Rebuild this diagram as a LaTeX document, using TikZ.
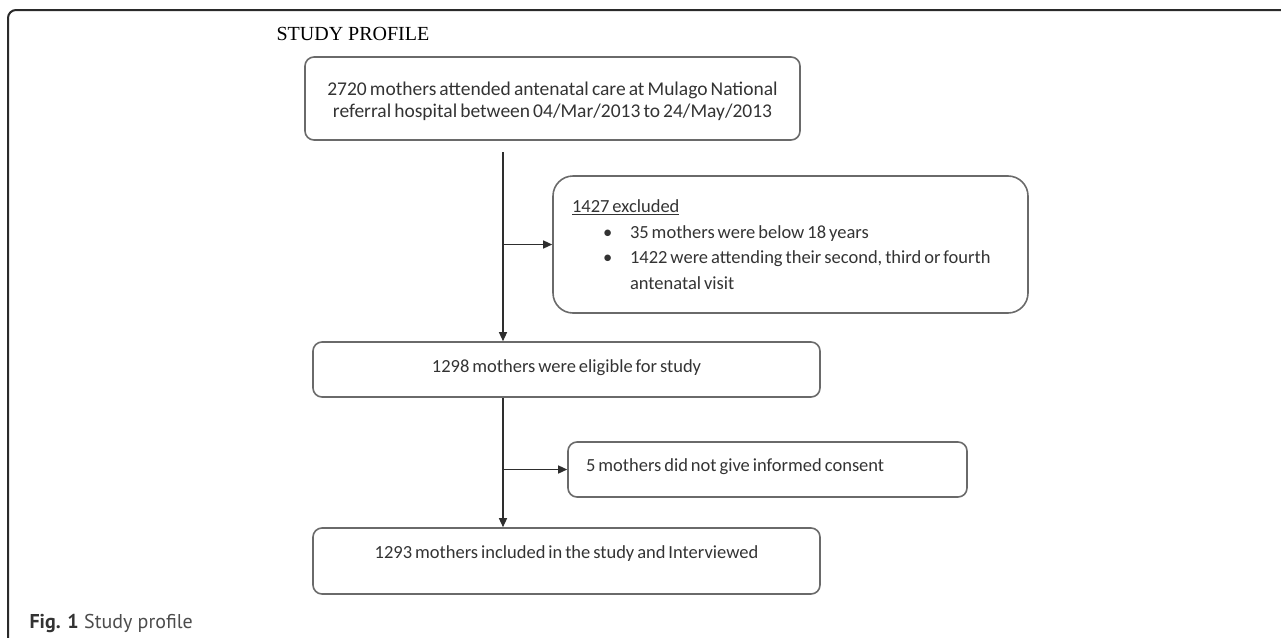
\documentclass[tikz,border=0pt]{standalone}
\usepackage{fontspec}
\setmainfont{Carlito}[WordSpace=0.7]
\newfontfamily\titlefont{Liberation Serif}
\newfontfamily\capfont{PT Sans}
\usetikzlibrary{arrows.meta}
\definecolor{boxline}{HTML}{6A6A6A}
\definecolor{txt}{HTML}{333333}
\definecolor{connc}{HTML}{2E2E2E}
\definecolor{framec}{HTML}{2A2A2A}
\tikzset{
  box/.style={draw=boxline, line width=1.6pt, rounded corners=9pt, text=txt,
    font=\fontsize{18.5}{21}\selectfont, inner sep=0pt},
  connector/.style={draw=connc, line width=1.3pt, -{Triangle[length=9pt,width=8pt]}},
  frameline/.style={draw=framec, line width=2pt, rounded corners=8pt},
}
\newcommand{\tightspace}{\spaceskip=0.16em plus 0.05em\relax}
\begin{document}
\begin{tikzpicture}[x=1pt,y=-1pt]
\useasboundingbox (0,0) rectangle (1281,637);
\draw[frameline] (8,640) -- (8,10) -- (1290,10);
\node[anchor=base west, font=\titlefont\fontsize{20}{24}\selectfont] (title) at (273,40) {STUDY PROFILE};
\node[box, minimum width=495pt, minimum height=83pt, font=\fontsize{19.5}{22}\selectfont] (top) at (552.5,98.5)
  {\raisebox{-4pt}[\height][\depth]{\begin{tabular}{@{}c@{}}2720 mothers attended antenatal care at Mulago National\\referral hospital between 04/Mar/2013 to 24/May/2013\end{tabular}}};
\node[box, rounded corners=20pt, minimum width=475pt, minimum height=137pt, text width=437pt,
  align=left, font=\fontsize{18.5}{25.5}\selectfont] (excl) at (790.5,244.5)
  {\tightspace\underline{1427 excluded}\\
   \hspace*{31pt}\makebox[27pt][l]{\textbullet}\mbox{35 mothers were below 18 years}\\
   \hspace*{31pt}\makebox[27pt][l]{\textbullet}\mbox{1422 were attending their second, third or fourth}\\
   \hspace*{58pt}antenatal visit};
\node[box, minimum width=507pt, minimum height=55pt] (elig) at (566.5,369.5)
  {\raisebox{2pt}[\height][\depth]{1298 mothers were eligible for study}};
\node[box, minimum width=399pt, minimum height=55pt, text width=363pt, align=left] (cons) at (767.5,469.5)
  {\tightspace\raisebox{3pt}[\height][\depth]{5 mothers did not give informed consent}};
\node[box, minimum width=507pt, minimum height=66pt] (final) at (566.5,561)
  {\raisebox{7pt}[\height][\depth]{1293 mothers included in the study and Interviewed}};
\coordinate (s1) at (503,152);
\draw[connector] (s1) -- (s1 |- elig.north);
\draw[connector] (s1 |- excl.west) -- (excl.west);
\draw[connector] (elig.south -| s1) -- (s1 |- final.north);
\draw[connector] (s1 |- cons.west) -- (cons.west);
\node[anchor=base west, font=\capfont\fontsize{20}{22}\selectfont, text=black!80] (cap) at (26,628.5)
  {\textbf{Fig. 1} {\color{black!70}Study profile}};
\end{tikzpicture}
\end{document}
